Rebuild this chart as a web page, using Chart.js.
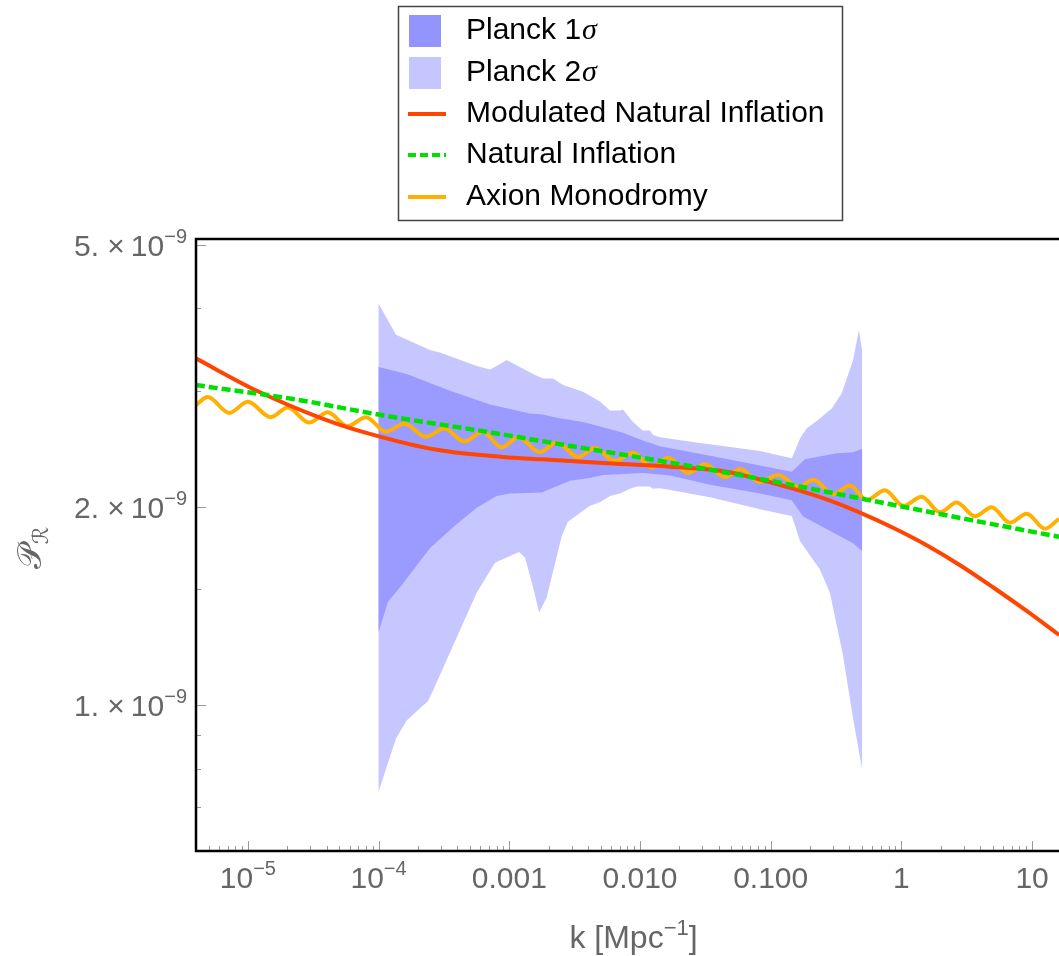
<!DOCTYPE html>
<html>
<head>
<meta charset="utf-8">
<script src="https://cdn.jsdelivr.net/npm/chart.js@4.4.1/dist/chart.umd.min.js"></script>
<style>
  html, body { margin: 0; padding: 0; background: #fff; }
  canvas { display: block; }
</style>
</head>
<body>
<canvas id="spectrum" width="1059" height="956"></canvas>
<script>
// all P values are in units of 1e-9, k in Mpc^-1

// Planck 2 sigma band
const s2UpK = [1e-4, 1.36e-4, 2.47e-4, 2.95e-4, 5.63e-4, 7.12e-4, 8.20e-4, 9.55e-4, 1.52e-3, 1.81e-3, 2.16e-3, 2.58e-3, 3.66e-3, 4.94e-3, 5.89e-3, 7.03e-3, 7.41e-3, 8.84e-3, 1.05e-2, 1.19e-2, 1.26e-2, 1.42e-2, 2.88e-2, 8.28e-2, 0.145, 0.168, 0.188, 0.225, 0.293, 0.349, 0.427, 0.473, 0.5];
const s2UpP = [4.07, 3.65, 3.46, 3.43, 3.27, 3.23, 3.28, 3.34, 3.18, 3.13, 3.13, 3.06, 2.99, 2.89, 2.80, 2.80, 2.81, 2.69, 2.61, 2.61, 2.57, 2.55, 2.50, 2.43, 2.37, 2.54, 2.63, 2.70, 2.82, 2.97, 3.34, 3.71, 3.46];
const s2LoK = [1e-4, 1.36e-4, 1.64e-4, 2.39e-4, 2.61e-4, 5.63e-4, 7.78e-4, 9.55e-4, 1.19e-3, 1.32e-3, 1.52e-3, 1.69e-3, 1.93e-3, 2.52e-3, 2.81e-3, 3.47e-3, 4.14e-3, 4.94e-3, 5.89e-3, 7.03e-3, 8.38e-3, 9.43e-3, 1.19e-2, 1.26e-2, 1.42e-2, 1.70e-2, 3.44e-2, 8.28e-2, 0.145, 0.168, 0.238, 0.284, 0.357, 0.427, 0.5];
const s2LoP = [0.739, 0.889, 0.947, 1.014, 1.052, 1.480, 1.644, 1.675, 1.707, 1.675, 1.509, 1.382, 1.454, 1.805, 1.897, 1.956, 2.006, 2.031, 2.076, 2.094, 2.130, 2.147, 2.147, 2.130, 2.134, 2.12, 2.068, 1.983, 1.936, 1.772, 1.605, 1.479, 1.191, 0.953, 0.800];

// Planck 1 sigma band
const s1UpK = [1e-4, 1.64e-4, 3.52e-4, 7.12e-4, 1.44e-3, 1.81e-3, 2.31e-3, 3.66e-3, 5.21e-3, 7.41e-3, 1.05e-2, 1.42e-2, 3.44e-2, 8.28e-2, 0.145, 0.183, 0.320, 0.427, 0.5];
const s1UpP = [3.26, 3.18, 3.00, 2.86, 2.77, 2.76, 2.73, 2.69, 2.64, 2.59, 2.52, 2.47, 2.39, 2.31, 2.26, 2.36, 2.41, 2.42, 2.45];
const s1LoK = [1e-4, 1.18e-4, 1.46e-4, 2.47e-4, 3.71e-4, 5.63e-4, 8.01e-4, 1.01e-3, 1.77e-3, 2.91e-3, 4.14e-3, 5.21e-3, 7.41e-3, 1.05e-2, 1.70e-2, 3.44e-2, 8.28e-2, 0.145, 0.177, 0.300, 0.427, 0.5];
const s1LoP = [1.29, 1.434, 1.509, 1.730, 1.862, 1.993, 2.076, 2.094, 2.101, 2.189, 2.212, 2.234, 2.242, 2.250, 2.23, 2.159, 2.094, 2.045, 1.932, 1.827, 1.760, 1.713];

// Modulated Natural Inflation
const mniK = [4.0e-6, 1.17e-5, 3.76e-5, 8.59e-5, 2.79e-4, 8.95e-4, 1.77e-3, 5.21e-3, 1.70e-2, 4.61e-2, 8.28e-2, 0.148, 0.268, 0.482, 0.863, 1.56, 2.81, 5.02, 9.09, 16.1];
const mniP = [3.36, 3.00, 2.72, 2.58, 2.44, 2.38, 2.36, 2.33, 2.30, 2.26, 2.20, 2.13, 2.052, 1.959, 1.858, 1.748, 1.630, 1.509, 1.389, 1.277];

// Natural Inflation
const niK = [4.0e-6, 2.33e-5, 1.0e-4, 6.64e-4, 3.47e-3, 2.02e-2, 9.85e-2, 0.543, 3.35, 16.1];
const niP = [3.06, 2.91, 2.76, 2.60, 2.46, 2.32, 2.19, 2.05, 1.91, 1.80];

// Axion Monodromy (peaks and troughs)
const amK = [4.0e-6, 4.93e-6, 7.21e-6, 9.97e-6, 1.50e-5, 2.02e-5, 2.95e-5, 4.08e-5, 5.80e-5, 8.01e-5, 1.139e-4, 1.572e-4, 2.305e-4, 3.18e-4, 4.52e-4, 6.26e-4, 8.75e-4, 1.172e-3, 1.717e-3, 2.305e-3, 3.37e-3, 4.52e-3, 6.44e-3, 8.89e-3, 1.229e-2, 1.646e-2, 2.342e-2, 3.14e-2, 4.47e-2, 5.82e-2, 8.28e-2, 0.1143, 0.1626, 0.2118, 0.3013, 0.4044, 0.5427, 0.7491, 1.034, 1.430, 1.974, 2.649, 3.657, 4.909, 6.777, 9.09, 12.55, 16.06];
const amP = [2.853, 2.935, 2.776, 2.886, 2.735, 2.830, 2.684, 2.782, 2.650, 2.735, 2.599, 2.674, 2.555, 2.629, 2.512, 2.599, 2.461, 2.547, 2.420, 2.504, 2.379, 2.456, 2.346, 2.415, 2.294, 2.374, 2.250, 2.320, 2.217, 2.281, 2.180, 2.234, 2.143, 2.197, 2.089, 2.154, 2.047, 2.118, 2.006, 2.071, 1.961, 2.029, 1.934, 1.997, 1.891, 1.951, 1.852, 1.917];

// ticks
const xTickValues = [1e-5, 1e-4, 1e-3, 1e-2, 1e-1, 1, 10];
const xTickLabels = [[['10', 0], ['\u22125', 1]], [['10', 0], ['\u22124', 1]], [['0.001', 0]], [['0.010', 0]], [['0.100', 0]], [['1', 0]], [['10', 0]]];
const yTickValues = [1, 2, 5];
const yTickLabels = ['1.', '2.', '5.'];
const yMinorTicks = [0.7, 0.8, 0.9, 1.5, 3, 4];

const legendItems = [
    { label: 'Planck 1', sigma: true, type: 'box', color: '#9494ff' },
    { label: 'Planck 2', sigma: true, type: 'box', color: '#c6c6ff' },
    { label: 'Modulated Natural Inflation', type: 'line', color: '#ff4500' },
    { label: 'Natural Inflation', type: 'dash', color: '#00e000' },
    { label: 'Axion Monodromy', type: 'line', color: '#ffb000' }
];

const FONT = '"Liberation Sans", Arial, sans-serif';
const GREY = '#666666';

function toPoints(ks, ps) {
    return ks.map((k, i) => ({ x: k, y: ps[i] }));
}

// closed polygon: upper edge left->right, lower edge right->left
function bandPoints(upK, upP, loK, loP) {
    return toPoints(upK, upP).concat(toPoints(loK, loP).reverse());
}

function drawRich(ctx, parts, x, y, align, size, color) {
    const supSize = Math.round(size * 0.68);
    let w = 0;
    parts.forEach(([t, sup]) => {
        ctx.font = `${sup ? supSize : size}px ${FONT}`;
        w += ctx.measureText(t).width;
    });
    let cx = align === 'right' ? x - w : align === 'center' ? x - w / 2 : x;
    ctx.fillStyle = color;
    ctx.textAlign = 'left';
    ctx.textBaseline = 'alphabetic';
    parts.forEach(([t, sup]) => {
        ctx.font = `${sup ? supSize : size}px ${FONT}`;
        ctx.fillText(t, cx, sup ? y - size * 0.42 : y);
        cx += ctx.measureText(t).width;
    });
}

const decorations = {
    id: 'decorations',
    afterDraw(chart) {
        const { ctx, chartArea: a, scales: { x, y } } = chart;
        ctx.save();

        // tick marks (inside the frame)
        ctx.strokeStyle = '#999999';
        ctx.lineWidth = 1;
        ctx.beginPath();
        for (let e = -6; e <= 1; e++) {
            for (let m = 1; m <= 9; m++) {
                const v = m * Math.pow(10, e);
                const px = x.getPixelForValue(v);
                if (px < a.left + 1 || px > a.right) continue;
                const len = m === 1 ? 10 : 5;
                ctx.moveTo(Math.round(px) + 0.5, a.bottom);
                ctx.lineTo(Math.round(px) + 0.5, a.bottom - len);
            }
        }
        yTickValues.forEach(v => {
            const py = Math.round(y.getPixelForValue(v)) + 0.5;
            ctx.moveTo(a.left, py);
            ctx.lineTo(a.left + 10, py);
        });
        yMinorTicks.forEach(v => {
            const py = Math.round(y.getPixelForValue(v)) + 0.5;
            ctx.moveTo(a.left, py);
            ctx.lineTo(a.left + 5, py);
        });
        ctx.stroke();

        // frame
        ctx.strokeStyle = '#000';
        ctx.lineWidth = 2.5;
        ctx.beginPath();
        ctx.moveTo(chart.width + 2, a.top);
        ctx.lineTo(a.left, a.top);
        ctx.lineTo(a.left, a.bottom);
        ctx.lineTo(chart.width + 2, a.bottom);
        ctx.stroke();

        // x tick labels
        xTickValues.forEach((v, i) => {
            drawRich(ctx, xTickLabels[i], x.getPixelForValue(v), a.bottom + 37, 'center', 30, GREY);
        });
        // y tick labels
        yTickValues.forEach((v, i) => {
            const py = y.getPixelForValue(v);
            drawRich(ctx, [[yTickLabels[i] + ' \u00d7\u200910', 0], ['\u22129', 1]], 187, py + 11, 'right', 30, GREY);
        });

        // axis titles
        drawRich(ctx, [['k [Mpc', 0], ['\u22121', 1], [']', 0]], (a.left + a.right) / 2 + 6, a.bottom + 97, 'center', 32, GREY);

        ctx.save();
        ctx.translate(31, 548);
        ctx.rotate(-Math.PI / 2);
        ctx.fillStyle = GREY;
        ctx.textBaseline = 'alphabetic';
        ctx.textAlign = 'left';
        ctx.font = '34px "DejaVu Sans", sans-serif';
        const pw = ctx.measureText('\u{1D4AB}').width;
        ctx.font = '22px "DejaVu Sans", sans-serif';
        const rw = ctx.measureText('\u211B').width;
        const sx = -(pw + rw) / 2;
        ctx.font = '34px "DejaVu Sans", sans-serif';
        ctx.fillText('\u{1D4AB}', sx, 10);
        ctx.font = '22px "DejaVu Sans", sans-serif';
        ctx.fillText('\u211B', sx + pw, 17);
        ctx.restore();

        // legend
        ctx.fillStyle = '#fff';
        ctx.fillRect(398, 6, 445, 215);
        ctx.strokeStyle = '#444';
        ctx.lineWidth = 1.5;
        ctx.strokeRect(398.5, 6.5, 444, 214);
        const rowY = [31, 73, 114, 155, 197];
        legendItems.forEach((it, i) => {
            const ry = rowY[i];
            if (it.type === 'box') {
                ctx.fillStyle = it.color;
                ctx.fillRect(409, ry - 16, 32, 32);
            } else {
                ctx.strokeStyle = it.color;
                ctx.lineWidth = 4;
                ctx.setLineDash(it.type === 'dash' ? [8, 4] : []);
                ctx.beginPath();
                ctx.moveTo(408, ry);
                ctx.lineTo(446, ry);
                ctx.stroke();
                ctx.setLineDash([]);
            }
            ctx.fillStyle = '#000';
            ctx.textBaseline = 'middle';
            ctx.textAlign = 'left';
            ctx.font = `30px ${FONT}`;
            ctx.fillText(it.label, 466, ry);
            if (it.sigma) {
                const w = ctx.measureText(it.label).width;
                ctx.font = 'italic 30px "Liberation Serif", serif';
                ctx.fillText('\u03c3', 466 + w + 1, ry);
            }
        });

        ctx.restore();
    }
};

const ctx = document.getElementById('spectrum').getContext('2d');
new Chart(ctx, {
    type: 'line',
    data: {
        datasets: [
            {
                label: 'Natural Inflation',
                data: toPoints(niK, niP),
                borderColor: '#00e000',
                borderWidth: 4.5,
                borderDash: [9, 4],
                cubicInterpolationMode: 'monotone',
                pointRadius: 0,
                fill: false
            },
            {
                label: 'Modulated Natural Inflation',
                data: toPoints(mniK, mniP),
                borderColor: '#ff4500',
                borderWidth: 4,
                cubicInterpolationMode: 'monotone',
                pointRadius: 0,
                fill: false
            },
            {
                label: 'Axion Monodromy',
                data: toPoints(amK, amP),
                borderColor: '#ffb000',
                borderWidth: 4,
                cubicInterpolationMode: 'monotone',
                pointRadius: 0,
                fill: false
            },
            {
                label: 'Planck 1\u03c3',
                data: bandPoints(s1UpK, s1UpP, s1LoK, s1LoP),
                borderWidth: 0,
                borderColor: 'rgba(0,0,0,0)',
                backgroundColor: '#9a9aff',
                pointRadius: 0,
                tension: 0,
                fill: 'shape'
            },
            {
                label: 'Planck 2\u03c3',
                data: bandPoints(s2UpK, s2UpP, s2LoK, s2LoP),
                borderWidth: 0,
                borderColor: 'rgba(0,0,0,0)',
                backgroundColor: '#c7c7ff',
                pointRadius: 0,
                tension: 0,
                fill: 'shape'
            }
        ]
    },
    options: {
        responsive: false,
        animation: false,
        devicePixelRatio: 1,
        layout: { padding: { left: 196, top: 239, right: 0, bottom: 105 } },
        scales: {
            x: {
                type: 'logarithmic',
                display: false,
                min: 4.01e-6,
                max: 16.06
            },
            y: {
                type: 'logarithmic',
                display: false,
                min: 0.6325,
                max: 5.10
            }
        },
        plugins: {
            legend: { display: false },
            tooltip: { enabled: false }
        }
    },
    plugins: [decorations]
});
</script>
</body>
</html>
